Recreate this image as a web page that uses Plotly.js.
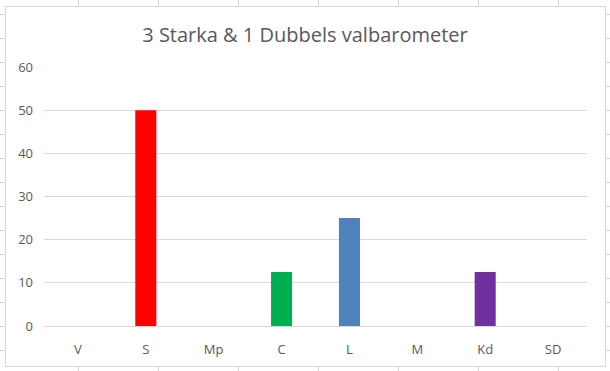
<!DOCTYPE html>
<html>
<head>
<meta charset="utf-8">
<script src="https://cdn.plot.ly/plotly-3.0.1.min.js"></script>
<style>
  html, body { margin: 0; padding: 0; width: 610px; height: 371px; overflow: hidden; }
  body {
    background-color: #ffffff;
    background-image:
      linear-gradient(to right, #d4d4d4 1px, transparent 1px),
      linear-gradient(to bottom, #d4d4d4 1px, transparent 1px);
    background-size: 80px 100%, 100% 24px;
    background-position: 78px 0, 0 14px;
    position: relative;
  }
  #box {
    position: absolute; left: 5px; top: 6px; width: 599px; height: 359px;
    background: #ffffff; border: 1px solid #d9d9d9;
  }
  #chart { position: absolute; left: 0; top: 0; width: 610px; height: 371px; }
</style>
</head>
<body>
<div id="box"></div>
<div id="chart"></div>
<script>
const categories = ["V", "S", "Mp", "C", "L", "M", "Kd", "SD"];
const values = [0, 50, 0, 12.5, 25, 0, 12.5, 0];
const barColors = ["#7F7F7F", "#FF0000", "#4472C4", "#00B050", "#4F81BD", "#ED7D31", "#7030A0", "#C00000"];
const yTicks = [0, 10, 20, 30, 40, 50, 60];
const chartTitle = "3 Starka & 1 Dubbels valbarometer";

const trace = {
  type: "bar",
  x: categories,
  y: values,
  marker: { color: barColors, line: { width: 0 } },
  hoverinfo: "x+y"
};

const layout = {
  width: 610,
  height: 371,
  margin: { l: 44, r: 23, t: 67, b: 45 },
  paper_bgcolor: "rgba(0,0,0,0)",
  plot_bgcolor: "rgba(0,0,0,0)",
  bargap: 0.69,
  showlegend: false,
  font: { family: "Open Sans, sans-serif", color: "#595959", size: 13 },
  title: {
    text: chartTitle,
    font: { family: "Open Sans, sans-serif", size: 20, color: "#595959" },
    x: 0.5, xanchor: "center",
    y: 1 - 35 / 371, yanchor: "middle"
  },
  xaxis: {
    type: "category",
    showgrid: false,
    showline: true,
    linecolor: "#d9d9d9",
    linewidth: 1,
    ticks: "",
    ticklabelstandoff: 11,
    tickfont: { size: 13, color: "#595959" },
    fixedrange: true
  },
  yaxis: {
    range: [0, 60],
    tickvals: yTicks,
    ticktext: yTicks.map(String),
    showgrid: true,
    gridcolor: "#d9d9d9",
    gridwidth: 1,
    zeroline: false,
    showline: false,
    ticks: "",
    ticklabelstandoff: 10,
    tickfont: { size: 13, color: "#595959" },
    fixedrange: true
  }
};

Plotly.newPlot("chart", [trace], layout, { displayModeBar: false, staticPlot: true });
</script>
</body>
</html>
